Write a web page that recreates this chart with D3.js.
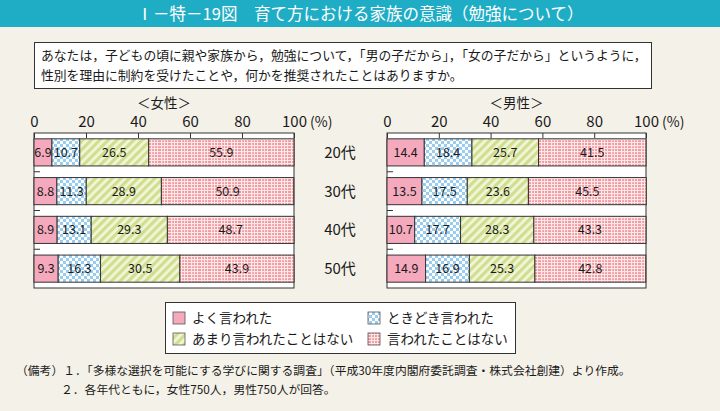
<!DOCTYPE html>
<html><head><meta charset="utf-8">
<script src="https://cdn.jsdelivr.net/npm/d3@7"></script>
<style>
html,body{margin:0;padding:0;background:#f4f1e8;}
svg{display:block;font-family:"Noto Sans CJK JP","Noto Sans",sans-serif;}
</style></head>
<body>
<svg id="chart" width="720" height="411"></svg>
<script>
const ages = ["20代","30代","40代","50代"];
const seriesNames = ["よく言われた","ときどき言われた","あまり言われたことはない","言われたことはない"];
const femaleOften = [6.9, 8.8, 8.9, 9.3];
const femaleSometimes = [10.7, 11.3, 13.1, 16.3];
const femaleRarely = [26.5, 28.9, 29.3, 30.5];
const femaleNever = [55.9, 50.9, 48.7, 43.9];
const maleOften = [14.4, 13.5, 10.7, 14.9];
const maleSometimes = [18.4, 17.5, 17.7, 16.9];
const maleRarely = [25.7, 23.6, 28.3, 25.3];
const maleNever = [41.5, 45.5, 43.3, 42.8];
const tickValues = [0, 20, 40, 60, 80, 100];
const title = "Ⅰ－特－19図　育て方における家族の意識（勉強について）";
const question = ["あなたは，子どもの頃に親や家族から，勉強について，「男の子だから」，「女の子だから」というように，",
                  "性別を理由に制約を受けたことや，何かを推奨されたことはありますか。"];
const notes = ["（備考）１．「多様な選択を可能にする学びに関する調査」（平成30年度内閣府委託調査・株式会社創建）より作成。",
               "２．各年代ともに，女性750人，男性750人が回答。"];

const svg = d3.select("#chart");
const W = 720, H = 411;
svg.append("rect").attr("width", W).attr("height", H).attr("fill", "#f4f1e8");

// patterns
const defs = svg.append("defs");
const pCheck = defs.append("pattern").attr("id","pCheck").attr("patternUnits","userSpaceOnUse").attr("width",6).attr("height",6);
pCheck.append("rect").attr("width",6).attr("height",6).attr("fill","#ffffff");
pCheck.append("rect").attr("width",3).attr("height",3).attr("fill","#98cdf0");
pCheck.append("rect").attr("x",3).attr("y",3).attr("width",3).attr("height",3).attr("fill","#98cdf0");

const pStripe = defs.append("pattern").attr("id","pStripe").attr("patternUnits","userSpaceOnUse").attr("width",6).attr("height",6).attr("patternTransform","rotate(45)");
pStripe.append("rect").attr("width",6).attr("height",6).attr("fill","#f3f5da");
pStripe.append("rect").attr("width",3.2).attr("height",6).attr("fill","#cfdf8e");

const pGrid = defs.append("pattern").attr("id","pGrid").attr("patternUnits","userSpaceOnUse").attr("width",10).attr("height",6);
pGrid.append("rect").attr("width",10).attr("height",6).attr("fill","#f29aa3");
pGrid.append("rect").attr("y",1).attr("width",10).attr("height",1.2).attr("fill","#fde8e6");
pGrid.append("rect").attr("y",4).attr("width",10).attr("height",1).attr("fill","#fde8e6");
pGrid.append("rect").attr("x",1).attr("width",1.2).attr("height",6).attr("fill","#fde8e6");
pGrid.append("rect").attr("x",4).attr("width",1).attr("height",6).attr("fill","#fde8e6");
pGrid.append("rect").attr("x",7).attr("width",1).attr("height",6).attr("fill","#fde8e6");

const fills = ["#f5a9bd", "url(#pCheck)", "url(#pStripe)", "url(#pGrid)"];

// title bar
svg.append("rect").attr("x",0).attr("y",0).attr("width",W).attr("height",27).attr("fill","#1fadc6");
svg.append("text").attr("x",360).attr("y",20).attr("text-anchor","middle").attr("fill","#fff")
  .attr("font-size",16.5).text(title);

// question box
svg.append("rect").attr("x",34.5).attr("y",42.5).attr("width",617).attr("height",46).attr("fill","#fff").attr("stroke","#333").attr("stroke-width",1);
question.forEach((q,i)=>{
  svg.append("text").attr("x",41).attr("y",59.5 + i*20).attr("font-size",12.8).attr("fill","#1a1a1a").text(q);
});

const keys = ["often","sometimes","rarely","never"];
function rows(a,b,c,d){ return ages.map((age,i)=>({age, often:a[i], sometimes:b[i], rarely:c[i], never:d[i]})); }
const panels = [
  {label:"＜女性＞", x0:34, x1:294, data: rows(femaleOften,femaleSometimes,femaleRarely,femaleNever)},
  {label:"＜男性＞", x0:387, x1:646, data: rows(maleOften,maleSometimes,maleRarely,maleNever)}
];
const y = d3.scaleBand().domain(ages).range([133, 288]).paddingInner(0.3).paddingOuter(0.15);
const stack = d3.stack().keys(keys);

panels.forEach(p=>{
  const x = d3.scaleLinear().domain([0,100]).range([p.x0, p.x1]);
  const g = svg.append("g");
  g.append("rect").attr("x",x(0)).attr("y",133).attr("width",x(100)-x(0)).attr("height",155)
    .attr("fill","#fff").attr("stroke","#333").attr("stroke-width",1);
  // band boundary marks
  ages.slice(1).forEach(a=>{
    const yy = y(a) - y.step()*y.paddingInner()/2;
    g.append("line").attr("x1",x(0)).attr("x2",x(0)+6).attr("y1",yy).attr("y2",yy).attr("stroke","#333");
  });
  const series = stack(p.data);
  series.forEach((s,si)=>{
    g.selectAll(null).data(s).join("rect")
      .attr("x",d=>x(d[0])).attr("y",d=>y(d.data.age))
      .attr("width",d=>x(d[1])-x(d[0])).attr("height",y.bandwidth())
      .attr("fill",fills[si]).attr("stroke","#333").attr("stroke-width",1);
    g.selectAll(null).data(s).join("text")
      .attr("x",d=>(x(d[0])+x(d[1]))/2).attr("y",d=>y(d.data.age)+y.bandwidth()/2+4.5)
      .attr("text-anchor","middle").attr("font-size",12.5).attr("fill","#1a1a1a")
      .text(d=>(d[1]-d[0]).toFixed(1));
  });
  const axis = d3.axisTop(x).tickValues(tickValues).tickSize(-5).tickPadding(6).tickFormat(d3.format("d"));
  const ag = g.append("g").attr("transform","translate(0,133)").call(axis);
  ag.select(".domain").remove();
  ag.selectAll(".tick line").attr("stroke","#333");
  ag.selectAll(".tick text").attr("font-size",15).attr("fill","#1a1a1a").attr("font-family","'Noto Sans CJK JP','Noto Sans',sans-serif");
  g.append("text").attr("x",x(100)+16).attr("y",127).attr("font-size",14).attr("fill","#1a1a1a").text("(%)");
  g.append("text").attr("x",(x(0)+x(100))/2).attr("y",108).attr("text-anchor","middle").attr("font-size",13.5).attr("fill","#1a1a1a").text(p.label);
});

// age labels in middle
svg.selectAll(".agelab").data(ages).join("text")
  .attr("x",340).attr("y",d=>y(d)+y.bandwidth()/2+5.5).attr("text-anchor","middle")
  .attr("font-size",15).attr("fill","#1a1a1a").text(d=>d);

// legend
const lg = svg.append("g");
lg.append("rect").attr("x",165.5).attr("y",302.5).attr("width",350).attr("height",51).attr("fill","#fff").attr("stroke","#333");
const legPos = [[173,318],[368,318],[173,339],[368,339]];
seriesNames.forEach((n,i)=>{
  const [lx,ly] = legPos[i];
  lg.append("rect").attr("x",lx).attr("y",ly-6).attr("width",12).attr("height",12).attr("fill",fills[i]).attr("stroke","#555").attr("stroke-width",0.8);
  lg.append("text").attr("x",lx+19).attr("y",ly+5).attr("font-size",13.5).attr("fill","#1a1a1a").text(n);
});

// notes
svg.append("text").attr("x",16).attr("y",375).attr("font-size",11.8).attr("fill","#1a1a1a").text(notes[0]);
svg.append("text").attr("x",61).attr("y",394).attr("font-size",11.8).attr("fill","#1a1a1a").text(notes[1]);
</script>
</body></html>
